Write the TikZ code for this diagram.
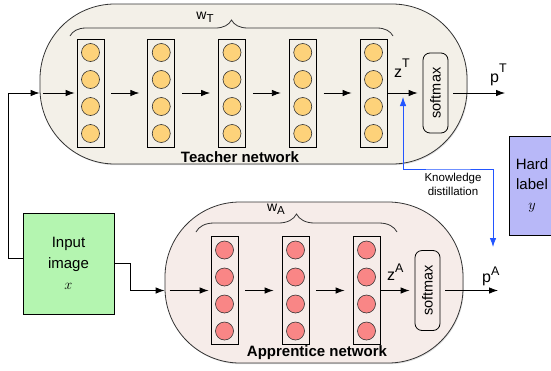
\documentclass[tikz,border=0pt]{standalone}
\usepackage{fontspec}
\setmainfont{Liberation Sans}
\usetikzlibrary{arrows.meta,decorations.pathreplacing,shadows}
\definecolor{teachfill}{HTML}{F3F0E8}
\definecolor{appfill}{HTML}{F6ECE9}
\definecolor{orangec}{HTML}{FDD27A}
\definecolor{redc}{HTML}{F98686}
\definecolor{greenfill}{HTML}{B4F5B0}
\definecolor{lavfill}{HTML}{B8B8F8}
\definecolor{kdblue}{HTML}{2255FF}
\begin{document}
\begin{tikzpicture}[x=1pt,y=-1pt,
  stad/.style={draw=black!80, line width=0.8pt, rounded corners=75pt, inner sep=0pt,
    drop shadow={opacity=0.25, shadow xshift=0.8pt, shadow yshift=-1.2pt}},
  layer/.style={draw=black, line width=0.8pt, minimum width=27pt, minimum height=108pt, inner sep=0pt},
  neuron/.style={circle, draw=black!80, line width=0.6pt, minimum size=18pt, inner sep=0pt},
  arr/.style={-{Latex[length=9pt,width=6.5pt]}, line width=0.8pt},
  smax/.style={draw=black, line width=0.8pt, rounded corners=7pt, minimum width=25pt, minimum height=80pt, inner sep=0pt, font=\fontsize{14.5}{14.5}\selectfont},
  inbox/.style={draw=black, line width=0.9pt, align=center, inner sep=0pt,
    drop shadow={opacity=0.35, shadow xshift=1pt, shadow yshift=-1pt}},
  bracestyle/.style={draw=black!80, line width=0.8pt, decorate, decoration={brace, amplitude=#1}},
  netlabel/.style={font=\fontsize{15}{15}\selectfont\bfseries},
  bigtxt/.style={font=\fontsize{16}{16}\selectfont, inner sep=0pt},
  kdarr/.style={{Latex[length=9pt,width=6.5pt]}-{Latex[length=9pt,width=6.5pt]}, draw=kdblue, line width=0.8pt}
]
\useasboundingbox (0,0) rectangle (551,370);

% Teacher network
\node[stad, fill=teachfill, minimum width=427pt, minimum height=160pt] (teach) at (253.5,84) {};
\foreach \i in {1,...,5} {
  \node[layer] (t\i) at ({90.5+70.75*(\i-1)},93) {};
  \foreach \j/\dy in {1/-40.5,2/-13.5,3/13.5,4/40.5}
    \node[neuron, fill=orangec] (tc\i-\j) at ({90.5+70.75*(\i-1)},{93+\dy}) {};
}
\foreach \i/\j in {1/2,2/3,3/4,4/5}
  \draw[arr, shorten <=7pt, shorten >=8pt] (t\i) -- (t\j);
\node[smax] (ts) at (435.5,93) {\rotatebox{90}{softmax}};
\draw[arr, shorten <=3pt, shorten >=2pt] (teach.west |- t1) -- (t1);
\draw[arr, shorten >=5pt] (t5) -- (ts);
\coordinate (pTend) at (505,93);
\draw[arr, shorten <=5pt] (ts.east) -- (pTend);
\draw[bracestyle=16pt] (70,36) -- (393,36);
\node[font=\fontsize{14}{14}\selectfont, inner sep=0pt] (wT) at (205,17) {w\raisebox{-3pt}{\fontsize{11.5}{11.5}\selectfont T}};
\node[bigtxt, anchor=base west] (zT) at (394,77) {z\raisebox{10pt}{\fontsize{12.5}{12.5}\selectfont T}};
\node[bigtxt, anchor=base west] (pT) at (490,82) {p\raisebox{10pt}{\fontsize{12.5}{12.5}\selectfont T}};
\node[netlabel] (tlab) at (240,157) {Teacher network};

% Apprentice network
\node[stad, fill=appfill, minimum width=298pt, minimum height=161pt] (app) at (314,282.5) {};
\foreach \i in {1,2,3} {
  \node[layer] (a\i) at ({224.5+71*(\i-1)},290.5) {};
  \foreach \j/\dy in {1/-40.5,2/-13.5,3/13.5,4/40.5}
    \node[neuron, fill=redc] (ac\i-\j) at ({224.5+71*(\i-1)},{290.5+\dy}) {};
}
\foreach \i/\j in {1/2,2/3}
  \draw[arr, shorten <=7pt, shorten >=8pt] (a\i) -- (a\j);
\node[smax] (as) at (427.5,290.5) {\rotatebox{90}{softmax}};
\draw[arr, shorten <=5pt, shorten >=2pt] (app.west |- a1) -- (a1);
\draw[arr, shorten >=5pt] (a3) -- (as);
\coordinate (pAend) at (498,290.5);
\draw[arr, shorten <=5pt] (as.east) -- (pAend);
\draw[bracestyle=18pt] (196,232) -- (397,232);
\node[font=\fontsize{14}{14}\selectfont, inner sep=0pt] (wA) at (276,209) {w\raisebox{-3pt}{\fontsize{11.5}{11.5}\selectfont A}};
\node[bigtxt, anchor=base west] (zA) at (387,280) {z\raisebox{8pt}{\fontsize{12.5}{12.5}\selectfont A}};
\node[bigtxt, anchor=base west] (pA) at (482,282) {p\raisebox{7pt}{\fontsize{12.5}{12.5}\selectfont A}};
\node[netlabel] (alab) at (317,353) {Apprentice network};

% Input image
\node[inbox, fill=greenfill, minimum width=91pt, minimum height=101pt,
  font=\fontsize{15}{21}\selectfont] (inp) at (68.5,263.5) {Input\\image\\$x$};
\coordinate (bend1) at (8,93);
\draw[arr] ([yshift=5pt]inp.west) -| (bend1) -- (teach.west |- t1);
\draw[arr] (inp.east) -- ++(16,0) |- (app.west |- a1);

% Hard label
\node[inbox, fill=lavfill, minimum width=46pt, minimum height=99pt,
  font=\fontsize{15}{20}\selectfont] (hard) at (532,185.5) {Hard\\label\\$y$};

% Knowledge distillation
\coordinate (kdT) at (403,97);
\coordinate (kdmid) at (448,169);
\coordinate (kdA) at (493,247);
\draw[kdarr] (kdT) |- (kdmid) -| (kdA);
\node[font=\fontsize{11.5}{14}\selectfont, align=center, inner sep=0pt] (kdlab) at (453,184) {Knowledge\\distillation};
\end{tikzpicture}
\end{document}
